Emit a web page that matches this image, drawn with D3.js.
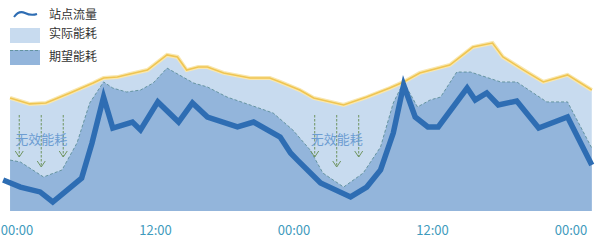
<!DOCTYPE html>
<html>
<head>
<meta charset="UTF-8">
<script src="https://d3js.org/d3.v7.min.js"></script>
<style>
  body { margin: 0; background: #fff; }
  text { font-family: "Noto Sans CJK SC", sans-serif; }
</style>
</head>
<body>
<svg id="chart" width="600" height="248"></svg>
<script>
// hours since the first midnight, values on a 0..100 scale
const actualHours = [-0.6, 1.1, 2.5, 4.6, 6.6, 7.5, 8.7, 9.8, 11.3, 13.0, 13.9, 14.7, 15.7, 16.5, 17.9, 20.2, 21.9, 22.8, 24.5, 25.7, 28.3, 30.3, 32.3, 33.5, 34.9, 37.5, 39.5, 41.2, 42.1, 43.9, 45.6, 47.7, 49.8];
const actualValues = [62.8, 59.5, 60, 65.6, 71.1, 73.9, 74.4, 76.1, 78.3, 86.7, 85.6, 78.3, 80, 80, 76.7, 73.9, 73.9, 71.7, 67.2, 62.8, 58.9, 63.3, 68.3, 71.7, 76.7, 81.1, 91.1, 93.3, 85.6, 78.3, 71.7, 75.6, 67.2];

const expectedHours = [-0.6, 0.3, 2.3, 3.9, 5.2, 6.3, 7.5, 8.3, 9.5, 10.7, 11.8, 13.0, 15.3, 16.5, 18.2, 20.2, 22.2, 23.9, 25.4, 26.5, 28.3, 30.0, 31.5, 32.6, 33.5, 34.7, 35.8, 36.7, 38.1, 39.3, 41.9, 43.3, 45.9, 47.7, 49.8];
const expectedValues = [28.3, 27.2, 18.9, 22.8, 37.8, 60, 71.7, 68.3, 66.1, 67.2, 71.1, 79.4, 71.1, 68.9, 63.3, 58.9, 54.4, 45, 33.9, 21.1, 13.3, 21.1, 35.6, 60, 71.7, 57.8, 61.7, 63.3, 77.2, 77.2, 71.7, 71.7, 60.6, 60.6, 35];

const flowHours = [-1.2, 0.3, 2.0, 3.1, 5.6, 6.5, 7.5, 8.3, 10.0, 10.7, 12.2, 14.0, 15.2, 16.5, 19.1, 20.5, 22.8, 23.7, 24.3, 26.3, 28.9, 30.3, 31.5, 32.6, 33.5, 34.5, 35.6, 36.5, 39.0, 39.7, 40.7, 41.7, 43.3, 45.2, 47.7, 49.8];
const flowValues = [17.2, 13.3, 10.6, 5, 18.3, 37.8, 63.3, 46.1, 49.4, 45, 60.6, 49.4, 60, 52.2, 46.7, 49.4, 41.1, 32.2, 28.3, 15.6, 7.8, 13.3, 22.8, 43.3, 70, 52.2, 46.7, 46.7, 68.3, 61.7, 65.6, 58.9, 61.1, 46.1, 52.2, 25.6];

const tickHours = [0, 12, 24, 36, 48];
const tickLabels = ["00:00", "12:00", "00:00", "12:00", "00:00"];

const legendLabels = ["站点流量", "实际能耗", "期望能耗"];
const annotationText = "无效能耗";
const annotationHours = [2.1, 27.7]; // where the "wasted energy" notes sit

const svg = d3.select("#chart");
const x = d3.scaleLinear().domain([0, 48]).range([17, 571]);
const y = d3.scaleLinear().domain([0, 100]).range([211, 31]);

const zip = (hs, vs) => hs.map((h, i) => [h, vs[i]]);
const actual = zip(actualHours, actualValues);
const expected = zip(expectedHours, expectedValues);
const flow = zip(flowHours, flowValues);

const area = d3.area().x(d => x(d[0])).y0(y(0)).y1(d => y(d[1]));
const line = d3.line().x(d => x(d[0])).y(d => y(d[1]));

// actual energy
svg.append("path").attr("d", area(actual)).attr("fill", "#c8dbef");
svg.append("path").attr("d", line(actual))
  .attr("fill", "none").attr("stroke", "#f9e7ae").attr("stroke-width", 4);
svg.append("path").attr("d", line(actual))
  .attr("fill", "none").attr("stroke", "#efc552").attr("stroke-width", 1.6);

// expected energy
svg.append("path").attr("d", area(expected)).attr("fill", "#93b5db");
svg.append("path").attr("d", line(expected))
  .attr("fill", "none").attr("stroke", "#5e8f98").attr("stroke-width", 0.9)
  .attr("stroke-dasharray", "3,2");

// annotations: arrows + text
const arrowColor = "#6f9460";
annotationHours.forEach(h => {
  const cx = x(h);
  [-22, 0, 22].forEach(dx => {
    const x0 = cx + dx;
    const y1 = dx === 0 ? 167 : 157;
    svg.append("line").attr("x1", x0).attr("x2", x0).attr("y1", 115).attr("y2", y1)
      .attr("stroke", arrowColor).attr("stroke-width", 1).attr("stroke-dasharray", "2.5,1.5");
    svg.append("path").attr("d", `M${x0 - 4},${y1 - 6}L${x0},${y1}L${x0 + 4},${y1 - 6}`)
      .attr("fill", "none").attr("stroke", arrowColor).attr("stroke-width", 1);
  });
  svg.append("text").attr("x", cx).attr("y", 140).attr("text-anchor", "middle")
    .attr("dominant-baseline", "middle").attr("font-size", 13)
    .attr("fill", "#6d9dd2").text(annotationText);
});

// flow line
svg.append("path").attr("d", line(flow))
  .attr("fill", "none").attr("stroke", "#2e6db3").attr("stroke-width", 5.5)
  .attr("stroke-linejoin", "miter");

// x axis labels
svg.append("g").selectAll("text").data(tickHours).join("text")
  .attr("x", d => x(d)).attr("y", 231)
  .attr("text-anchor", "middle").attr("dominant-baseline", "middle")
  .attr("font-size", 13).attr("fill", "#3f9bbd")
  .text((d, i) => tickLabels[i]);

// legend
const lg = svg.append("g");
lg.append("path").attr("d", "M14,17 Q19,10 25,13 T37,14")
  .attr("fill", "none").attr("stroke", "#2e6db3").attr("stroke-width", 2);
lg.append("rect").attr("x", 10).attr("y", 28).attr("width", 30).attr("height", 15).attr("fill", "#c8dbef");
lg.append("rect").attr("x", 10).attr("y", 50).attr("width", 30).attr("height", 15).attr("fill", "#93b5db");
lg.append("line").attr("x1", 10).attr("x2", 40).attr("y1", 50.5).attr("y2", 50.5)
  .attr("stroke", "#5e8f98").attr("stroke-width", 0.9).attr("stroke-dasharray", "3,2");
lg.selectAll("text").data(legendLabels).join("text")
  .attr("x", 49).attr("y", (d, i) => [16, 35, 58][i])
  .attr("dominant-baseline", "middle").attr("font-size", 12).attr("fill", "#333")
  .text(d => d);
</script>
</body>
</html>
